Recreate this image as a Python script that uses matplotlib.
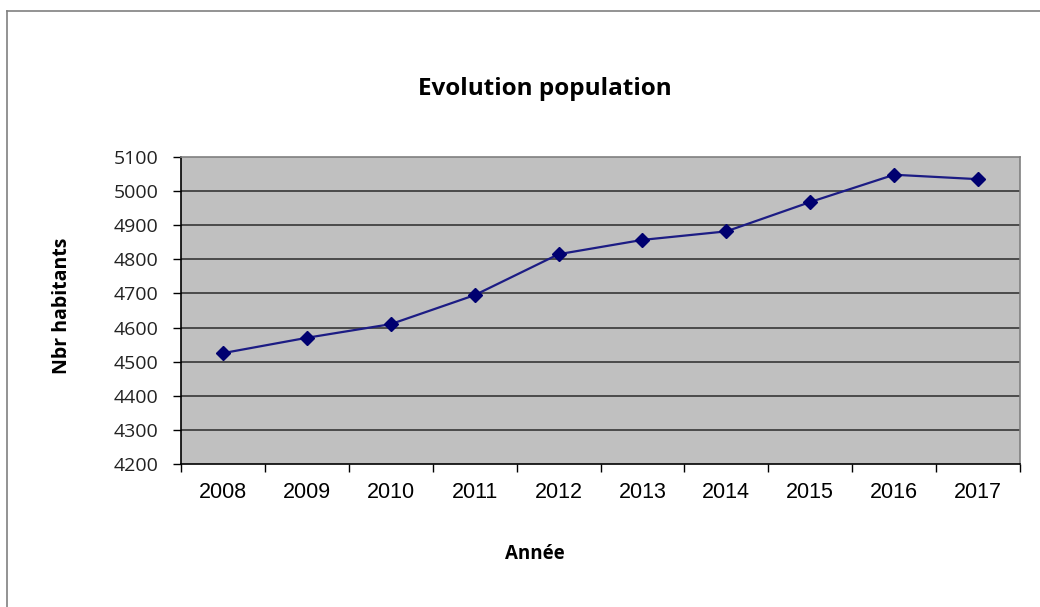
import matplotlib
matplotlib.use("Agg")
import matplotlib.pyplot as plt
from matplotlib.lines import Line2D
from matplotlib.ticker import FixedLocator

years = ["2008", "2009", "2010", "2011", "2012", "2013", "2014", "2015", "2016", "2017"]
population = [4525, 4570, 4610, 4695, 4815, 4857, 4882, 4968, 5048, 5035]
yticks = [4200, 4300, 4400, 4500, 4600, 4700, 4800, 4900, 5000, 5100]

W, H = 1040, 607
fig = plt.figure(figsize=(W / 100, H / 100), dpi=100)
fig.patch.set_facecolor("white")

# outer chart border (top and left visible)
fig.add_artist(Line2D([7 / W, 1.0], [1 - 11 / H, 1 - 11 / H], color="#808080", lw=1.2,
                      transform=fig.transFigure))
fig.add_artist(Line2D([7 / W, 7 / W], [0.0, 1 - 11 / H], color="#808080", lw=1.2,
                      transform=fig.transFigure))

left, right, top, bottom = 181 / W, 1020 / W, 1 - 157 / H, 1 - 464 / H
ax = fig.add_axes([left, bottom, right - left, top - bottom])
ax.set_facecolor("#C0C0C0")

x = list(range(len(years)))
ax.set_xlim(-0.5, len(years) - 0.5)
ax.set_ylim(4200, 5100)

for v in yticks[1:-1]:
    ax.axhline(v, color="#2a2a2a", lw=1.1, zorder=1)

ax.plot(x, population, color="#1c1c84", lw=1.6, marker="D", markersize=7,
        markerfacecolor="#000070", markeredgecolor="#000070", zorder=3)

ax.set_yticks(yticks)
ax.set_yticklabels([str(v) for v in yticks], fontfamily="Open Sans", fontsize=14,
                   color="#222222")
ax.tick_params(axis="y", direction="out", length=6, width=1, pad=10, color="black")

ax.set_xticks(x)
ax.set_xticklabels(years, fontfamily="Liberation Sans", fontsize=15.5)
ax.xaxis.set_minor_locator(FixedLocator([i - 0.5 for i in range(len(years) + 1)]))
ax.tick_params(axis="x", which="major", length=0, pad=13)
ax.tick_params(axis="x", which="minor", direction="out", length=6, width=1, color="black")

for s in ["left", "bottom"]:
    ax.spines[s].set_color("black")
    ax.spines[s].set_linewidth(1.2)
for s in ["top", "right"]:
    ax.spines[s].set_color("#808080")
    ax.spines[s].set_linewidth(1.2)

fig.text(545 / W, 1 - 89 / H, "Evolution population", ha="center", va="center",
         fontfamily="Open Sans", fontweight="bold", fontsize=17.5)
fig.text(62 / W, 1 - 306 / H, "Nbr habitants", ha="center", va="center", rotation=90,
         fontfamily="Open Sans", fontweight="bold", fontsize=14)
fig.text(535 / W, 1 - 554 / H, "Année", ha="center", va="center",
         fontfamily="Open Sans", fontweight="bold", fontsize=13.5)

fig.savefig("out.png", dpi=100, facecolor="white")
